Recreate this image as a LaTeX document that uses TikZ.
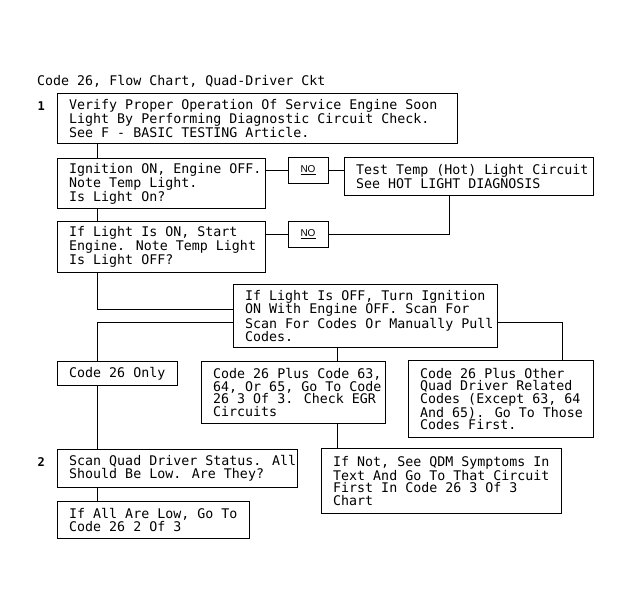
\documentclass[tikz,border=0pt]{standalone}
\usepackage{fontspec}
\newfontfamily\monof{DejaVu Sans Mono}
\newfontfamily\monobf{DejaVu Sans Mono Bold}
\newfontfamily\nof{Liberation Sans}
\begin{document}
\begin{tikzpicture}[x=1pt,y=-1pt,
  box/.style={draw, line width=1pt, inner sep=0pt, anchor=north west},
  nobox/.style={draw, line width=1pt, inner sep=0pt, minimum width=40pt, minimum height=26pt, font=\nof\fontsize{10}{12}\selectfont},
  txt/.style={font=\monof\fontsize{13.3}{12.6}\selectfont, align=left, inner sep=0pt, anchor=west},
  num/.style={font=\monobf\fontsize{12}{12}\selectfont, inner sep=0pt, anchor=base west},
  conn/.style={line width=1pt}]
\useasboundingbox[fill=white] (0,0) rectangle (631,614);
\coordinate (spine) at (97,0);
\coordinate (drop) at (449,0);
\coordinate (rdrop) at (562,0);
\coordinate (mid) at (337,0);
\coordinate (la) at (0,309);
\coordinate (lb) at (0,322.5);

\node[font=\monof\fontsize{13.3}{12.6}\selectfont, inner sep=0pt, anchor=base west] (title) at (37,85.5) {Code 26, Flow Chart, Quad-Driver Ckt};
\node[num] (n1) at (37.5,110) {1};
\node[num] (n2) at (37.5,466) {2};

\node[box, minimum width=400pt, minimum height=50pt] (b1) at (57,93) {};
\node[box, minimum width=208pt, minimum height=50pt] (b2) at (57,158) {};
\node[box, minimum width=208pt, minimum height=51pt] (b3) at (57,221) {};
\node[box, minimum width=249pt, minimum height=38pt] (test) at (344,157) {};
\node[nobox] (no1) at (308,170) {\raisebox{-1.5pt}{\underline{NO}}};
\node[nobox] (no2) at (308,234) {\raisebox{-1.5pt}{\underline{NO}}};
\node[box, minimum width=264pt, minimum height=63pt] (b4) at (233,284) {};
\node[box, minimum width=120pt, minimum height=24pt] (only) at (57,361) {};
\node[box, minimum width=184pt, minimum height=62pt] (c63) at (201,361) {};
\node[box, minimum width=185pt, minimum height=77pt] (other) at (408,360) {};
\node[box, minimum width=240pt, minimum height=38pt] (scan) at (57,449) {};
\node[box, minimum width=240pt, minimum height=65pt] (ifnot) at (321,448) {};
\node[box, minimum width=192pt, minimum height=37pt] (ifall) at (57,501) {};

\node[txt] (t1) at ([xshift=12pt]b1.west) {Verify Proper Operation Of Service Engine Soon\\Light By Performing Diagnostic Circuit Check.\\See F - BASIC TESTING Article.};
\node[txt] (t2) at ([xshift=12pt]b2.west) {Ignition ON, Engine OFF.\\Note Temp Light.\\Is Light On?};
\node[txt] (t3) at ([xshift=12pt]b3.west) {If Light Is ON, Start\\Engine. Note Temp Light\\Is Light OFF?};
\node[txt] (tt) at ([xshift=12pt]test.west) {Test Temp (Hot) Light Circuit\\See HOT LIGHT DIAGNOSIS};
\node[txt] (t4) at ([xshift=12pt]b4.west) {If Light Is OFF, Turn Ignition\\ON With Engine OFF. Scan For\\Scan For Codes Or Manually Pull\\Codes.};
\node[txt] (to) at ([xshift=12pt]only.west) {Code 26 Only};
\node[txt] (tc) at ([xshift=12pt]c63.west) {Code 26 Plus Code 63,\\64, Or 65, Go To Code\\26 3 Of 3. Check EGR\\Circuits};
\node[txt] (tr) at ([xshift=12pt]other.west) {Code 26 Plus Other\\Quad Driver Related\\Codes (Except 63, 64\\And 65). Go To Those\\Codes First.};
\node[txt] (ts) at ([xshift=12pt]scan.west) {Scan Quad Driver Status. All\\Should Be Low. Are They?};
\node[txt] (tn) at ([xshift=12pt]ifnot.west) {If Not, See QDM Symptoms In\\Text And Go To That Circuit\\First In Code 26 3 Of 3\\Chart};
\node[txt] (ta) at ([xshift=12pt]ifall.west) {If All Are Low, Go To\\Code 26 2 Of 3};

\draw[conn] (b1.south -| spine) -- (b2.north -| spine);
\draw[conn] (b2.south -| spine) -- (b3.north -| spine);
\draw[conn] (b2.east |- no1.west) -- (no1.west);
\draw[conn] (no1.east) -- (no1.east -| test.west);
\draw[conn] (b3.east |- no2.west) -- (no2.west);
\draw[conn] (no2.east) -| (test.south -| drop);
\draw[conn] (b3.south -| spine) |- (b4.west |- la);
\draw[conn] (b4.west |- lb) -| (only.north -| spine);
\draw[conn] (b4.east |- lb) -| (other.north -| rdrop);
\draw[conn] (b4.south -| mid) -- (c63.north -| mid);
\draw[conn] (c63.south -| mid) -- (ifnot.north -| mid);
\draw[conn] (only.south -| spine) -- (scan.north -| spine);
\draw[conn] (scan.south -| spine) -- (ifall.north -| spine);
\end{tikzpicture}
\end{document}
